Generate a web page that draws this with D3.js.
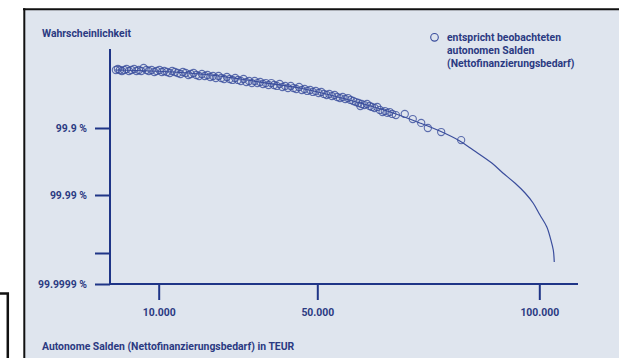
<!DOCTYPE html>
<html><head><meta charset="utf-8">
<script src="https://cdn.jsdelivr.net/npm/d3@7"></script>
<style>
body{margin:0;background:#fff}
svg{display:block}
text{font-family:Roboto,"Liberation Sans",sans-serif;font-weight:700;fill:#2b3a82}
</style>
</head><body>
<svg id="c" width="619" height="358"></svg>
<script>
// ---- data (TEUR, probability in %) ----
const obsTEUR = [-800,-300,200,700,1300,1900,2500,3100,3800,4400,5000,5600,6200,6900,7500,8200,8900,9500,10200,10800,11400,12100,12800,13400,14100,14800,15500,16100,16800,17500,18100,18800,19500,20200,20900,21600,22300,23000,23700,24400,25100,25800,26500,27200,27900,28600,29300,30000,30700,31400,32100,32800,33500,34200,34900,35600,36300,37000,37700,38400,39100,39800,40500,41200,41900,42600,43300,44000,44700,45400,46100,46800,47500,48200,48900,49600,50300,50900,51500,52100,52700,53300,53900,54500,55100,55700,56300,56900,57500,58100,58700,59300,59700,60000,60600,61200,61800,62300,62900,63500,64100,64700,65200,65800,66300,66900,67700,69700,71500,73400,74900,77900,82400];
const obsProb = [99.266,99.240,99.266,99.291,99.266,99.240,99.291,99.266,99.240,99.291,99.266,99.291,99.214,99.266,99.291,99.266,99.315,99.291,99.266,99.315,99.291,99.315,99.338,99.291,99.315,99.338,99.360,99.315,99.338,99.382,99.360,99.338,99.382,99.403,99.360,99.403,99.382,99.423,99.403,99.442,99.403,99.442,99.461,99.423,99.461,99.479,99.442,99.479,99.497,99.461,99.514,99.497,99.531,99.497,99.531,99.514,99.546,99.531,99.562,99.531,99.562,99.576,99.546,99.591,99.576,99.605,99.576,99.605,99.618,99.591,99.631,99.618,99.643,99.631,99.655,99.643,99.667,99.655,99.678,99.689,99.678,99.700,99.689,99.710,99.720,99.710,99.729,99.720,99.738,99.747,99.756,99.764,99.787,99.772,99.780,99.772,99.787,99.794,99.801,99.794,99.814,99.827,99.821,99.832,99.827,99.838,99.844,99.838,99.864,99.881,99.900,99.913,99.934];
const fitTEUR = [-1000,7800,15400,22900,30500,38100,45600,52900,59600,66400,73100,77600,82100,85100,89300,91800,94500,96800,98600,100150,101700,102600,103150,103370];
const fitProb = [99.266,99.291,99.327,99.382,99.461,99.539,99.605,99.689,99.764,99.827,99.881,99.910,99.936,99.953,99.970,99.9787,99.9849,99.98929,99.99272,99.99548,99.99719,99.99832,99.998874,99.999487];
const xTickValues = [10000,50000,100000];
const xTickLabels = ["10.000","50.000","100.000"];
const yTickValues = [99.9,99.99,99.999,99.9999];
const yTickLabels = ["99.9 %","99.99 %","","99.9999 %"];
const yAxisTitle = "Wahrscheinlichkeit";
const xAxisTitle = "Autonome Salden (Nettofinanzierungsbedarf) in TEUR";
const legendLines = ["entspricht beobachteten","autonomen Salden","(Nettofinanzierungsbedarf)"];

// ---- drawing ----
const svg = d3.select("#c");
const NAVY = "#1f3587", MARK = "#3a4d9c", TXT = "#2b3a82";
const FS = 10.4;

// frame
svg.append("rect").attr("x",24).attr("y",9).attr("width",600).attr("height",360).attr("fill","#dfe5ee");
svg.append("line").attr("x1",23).attr("x2",619).attr("y1",9.3).attr("y2",9.3).attr("stroke","#111").attr("stroke-width",2);
svg.append("line").attr("x1",24.3).attr("x2",24.3).attr("y1",8.3).attr("y2",358).attr("stroke","#111").attr("stroke-width",2);
svg.append("path").attr("d","M0,293.5H7.8V358").attr("fill","none").attr("stroke","#111").attr("stroke-width",2.5);

const x = d3.scaleLinear().domain([10000,50000,100000]).range([158.7,317.3,539.3]);
const nines = p => -Math.log10(1 - p/100);
const yN = d3.scaleLinear().domain([3,4,5,6]).range([128,195,253,284]);
const y = p => yN(nines(p));
const x0 = 110, x1 = 578, yTop = 49, yBase = yN(6);

// y axis
const gy = svg.append("g").attr("transform",`translate(${x0},0)`)
  .call(d3.axisLeft(yN).tickValues(yTickValues.map(nines)).tickFormat((d,i)=>yTickLabels[i]).tickSize(15).tickPadding(8));
gy.select(".domain").remove();
gy.selectAll(".tick line").attr("stroke",NAVY).attr("stroke-width",2);
gy.selectAll(".tick text").attr("font-size",FS).attr("font-family",null).attr("fill",TXT);
// x axis
const gx = svg.append("g").attr("transform",`translate(0,${yBase})`)
  .call(d3.axisBottom(x).tickValues(xTickValues).tickFormat((d,i)=>xTickLabels[i]).tickSize(16).tickPadding(9));
gx.select(".domain").remove();
gx.selectAll(".tick line").attr("stroke",NAVY).attr("stroke-width",2);
gx.selectAll(".tick text").attr("font-size",FS).attr("font-family",null).attr("fill",TXT);
// axis lines
svg.append("line").attr("x1",x0).attr("x2",x0).attr("y1",yTop).attr("y2",yBase+1).attr("stroke",NAVY).attr("stroke-width",2);
svg.append("line").attr("x1",x0-1).attr("x2",x1).attr("y1",yBase).attr("y2",yBase).attr("stroke",NAVY).attr("stroke-width",2);

// titles
svg.append("text").attr("x",42).attr("y",37).attr("font-size",FS).text(yAxisTitle);
svg.append("text").attr("x",42).attr("y",349.5).attr("font-size",FS).text(xAxisTitle);

// fitted curve
const fit = fitTEUR.map((v,i)=>[v,fitProb[i]]);
svg.append("path").datum(fit)
  .attr("d", d3.line().x(d=>x(d[0])).y(d=>y(d[1])).curve(d3.curveCatmullRom.alpha(0.5)))
  .attr("fill","none").attr("stroke",MARK).attr("stroke-width",1.2);

// observations
svg.append("g").selectAll("circle").data(obsTEUR.map((v,i)=>[v,obsProb[i]])).join("circle")
  .attr("cx",d=>x(d[0])).attr("cy",d=>y(d[1])).attr("r",3.6)
  .attr("fill","none").attr("stroke",MARK).attr("stroke-width",1.1).attr("stroke-opacity",0.8);

// legend
svg.append("circle").attr("cx",434.5).attr("cy",37.3).attr("r",3.8).attr("fill","none").attr("stroke",MARK).attr("stroke-width",1.1);
svg.append("g").selectAll("text").data(legendLines).join("text")
  .attr("x",447).attr("y",(d,i)=>40.8+i*13.2).attr("font-size",FS).text(d=>d);
</script>
</body></html>
